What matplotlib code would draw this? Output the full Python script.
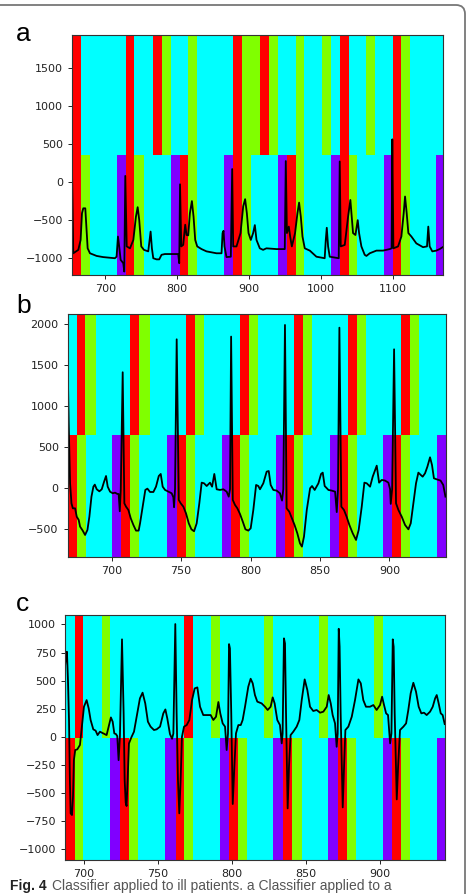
import matplotlib
matplotlib.use("Agg")
import matplotlib.pyplot as plt
from matplotlib.patches import FancyBboxPatch

# class colours: 0 red, 1 green, 2 cyan, 3 purple
CLASS_COLORS = ["#ff0000", "#80ff00", "#00ffff", "#8000ff"]

# ---- panel a ----
a_x = [653.8, 655.5, 662.5, 665.7, 667.6, 669.4, 672.2, 674.0, 675.5, 678.7, 688.0, 697.0,
       713.4, 715.7, 717.6, 719.4, 721.3, 725.0, 726.4, 727.8, 729.8, 734.3, 739.0, 742.6,
       745.0, 747.2, 750.0, 753.7, 759.7, 761.6, 763.0, 764.8, 766.7, 771.3, 775.0, 778.2,
       782.9, 801.4, 802.8, 803.9, 805.6, 808.3, 811.1, 813.0, 815.3, 817.6, 820.4, 822.7,
       825.0, 827.8, 833.8, 840.7, 854.6, 861.6, 863.0, 864.4, 865.7, 868.5, 874.5, 876.4,
       877.8, 882.4, 888.0, 891.7, 894.4, 896.8, 899.1, 902.3, 905.5, 907.9, 910.2, 914.8,
       919.4, 924.0, 938.0, 949.5, 950.9, 952.5, 955.1, 957.0, 959.3, 963.8, 967.1, 969.4,
       971.8, 974.1, 977.3, 984.3, 993.5, 1005.0, 1006.5, 1007.9, 1009.7, 1012.0, 1024.5,
       1025.9, 1027.3, 1032.9, 1037.5, 1040.7, 1044.4, 1047.7, 1050.9, 1052.8, 1056.0,
       1060.6, 1063.0, 1067.6, 1076.9, 1086.1, 1095.4, 1098.0, 1099.0, 1100.5, 1107.0,
       1111.6, 1114.8, 1116.7, 1119.0, 1121.3, 1125.5, 1132.4, 1141.7, 1147.2, 1149.0,
       1150.9, 1154.6, 1160.2, 1164.8, 1169.0]
a_y = [115, -935, -890, -760, -410, -345, -345, -630, -870, -935, -970, -985,
       -1000, -980, -715, -850, -1020, -1065, -1175, 80, -845, -870, -760, -455,
       -330, -500, -845, -890, -910, -760, -650, -870, -1000, -1015, -1015, -955,
       -945, -945, -1065, -30, -845, -825, -560, -695, -700, -410, -250, -455,
       -760, -845, -880, -910, -935, -935, -670, -640, -845, -985, -980, 170,
       -845, -845, -670, -320, -225, -410, -670, -760, -670, -565, -760, -870,
       -890, -870, -880, -880, 275, -670, -585, -715, -845, -670, -410, -270,
       -455, -715, -870, -900, -980, -1000, -760, -600, -845, -980, -1000,
       270, -845, -825, -455, -235, -670, -695, -500, -670, -845,
       -955, -970, -935, -900, -900, -880, -870, 560, -870, -845,
       -715, -410, -190, -410, -670, -715, -805, -855, -845, -585,
       -845, -910, -900, -880, -855]
a_top_edges = [653.7, 666.2, 728.7, 740.3, 765.7, 778.7, 790.7, 815.3, 827.8, 877.8, 890.3,
               914.8, 927.3, 939.8, 964.8, 976.4, 1000.9, 1013.9, 1026.4, 1038.4, 1062.5,
               1075.5, 1100.0, 1110.6, 1123.1, 1169.4]
a_top_labels = [0, 2, 0, 2, 0, 1, 2, 1, 2, 0, 1, 0, 1, 2, 1, 2, 1, 2, 0, 2, 1, 2, 0, 1, 2]
a_bot_edges = [653.7, 666.2, 678.7, 715.7, 728.7, 740.3, 753.7, 791.2, 803.7, 815.3, 827.8,
               864.8, 877.8, 890.3, 903.2, 939.8, 952.8, 964.8, 976.4, 1013.9, 1026.4,
               1038.4, 1050.5, 1087.5, 1100.0, 1110.6, 1123.1, 1159.3, 1169.4]
a_bot_labels = [0, 1, 2, 3] * 7

# ---- panel b ----
b_x = [668.3, 669.0, 670.0, 671.0, 672.0, 673.6, 674.8, 676.2, 677.2, 679.1, 680.8, 682.5,
       683.9, 685.4, 686.8, 687.8, 689.2, 691.1, 692.8, 694.5, 695.9, 697.1, 698.8, 700.7,
       702.4, 704.1, 705.0, 705.8, 706.5, 707.9, 709.1, 710.3, 712.0, 713.7, 715.6, 717.5,
       719.4, 720.4, 722.3, 724.2, 725.7, 727.6, 730.0, 731.9, 733.9, 735.3, 736.7, 738.4,
       740.8, 743.2, 744.4, 744.9, 745.6, 746.8, 748.3, 749.7, 751.6, 753.5, 755.5, 757.4,
       759.3, 761.2, 763.1, 764.8, 766.5, 768.4, 770.8, 772.3, 773.9, 775.6, 778.0, 780.4,
       782.8, 784.3, 785.2, 786.0, 787.2, 788.8, 790.5, 792.4, 794.4, 796.3, 798.4, 800.1,
       802.0, 804.0, 805.6, 806.8, 809.2, 811.6, 813.1, 814.5, 816.4, 818.8, 821.2, 822.7,
       823.6, 824.8, 826.0, 827.9, 829.8, 831.7, 833.7, 835.6, 837.0, 838.5, 840.5, 842.9,
       844.3, 846.2, 848.9, 850.8, 852.0, 853.4, 856.1, 858.5, 860.9, 862.1, 863.0, 864.0,
       865.4, 867.3, 869.2, 871.2, 873.6, 876.0, 877.9, 880.1, 882.0, 883.7, 886.1, 888.0,
       890.9, 892.6, 894.5, 896.9, 899.3, 900.5, 901.0, 902.0, 903.4, 904.8, 906.5, 908.9,
       911.3, 913.7, 915.4, 917.3, 919.2, 920.9, 922.6, 924.0, 925.7, 927.4, 929.3, 930.7,
       932.1, 934.0, 936.9, 938.8, 940.4]
b_y = [1492, 793, 61, -183, -244, -244, -346, -386, -467, -516, -569, -508,
       -346, -102, 20, 45, -12, -37, -12, 81, 150, 20, -41, -61,
       -53, -69, -69, -280, -20, 1415, -183, -224, -264, -366, -447, -516,
       -516, -427, -224, -20, -4, -45, -45, 20, 150, 175, 20, -20,
       -41, -61, -110, -230, -10, 1817, -142, -183, -224, -305, -427, -500,
       -524, -427, -183, 69, 61, 28, 69, 20, 175, -12, -20, -12,
       -41, -102, -10, 1850, -142, -203, -244, -313, -406, -500, -516, -488,
       -264, 41, 28, -12, 61, 203, 211, 41, -20, -28, -61, -150,
       -10, 1992, -244, -285, -366, -447, -549, -671, -711, -589, -264, 0,
       28, -20, 61, 175, 191, 28, -20, -28, -41, -290, -10, 1959,
       -224, -264, -346, -447, -549, -630, -508, -224, 69, 61, 20, 142,
       276, 69, 102, 94, 69, -10, -190, -10, 1695, -183, -264, -346,
       -447, -500, -427, -183, 61, 191, 163, 142, 183, 264, 378, 285,
       122, 110, 94, 41, -102]
b_top_edges = [668.3, 675.0, 681.0, 688.5, 713.2, 719.7, 727.4, 753.3, 760.0, 766.5, 792.4,
               798.9, 805.6, 831.3, 838.1, 844.5, 870.2, 876.5, 883.4, 908.4, 915.1, 921.6,
               940.6]
b_top_labels = [2, 0, 1] * 7 + [2]
b_bot_edges = [668.3, 675.0, 681.5, 700.0, 706.5, 713.2, 719.9, 740.1, 746.8, 753.3, 760.0,
               779.2, 785.7, 792.4, 798.9, 818.4, 824.8, 831.3, 838.1, 857.3, 864.0, 870.2,
               876.5, 895.7, 902.2, 908.4, 915.1, 934.3, 940.6]
b_bot_labels = [0, 1, 2, 3] * 7

# ---- panel c ----
c_x = [687.2, 687.8, 688.5, 689.2, 689.9, 690.5, 691.0, 691.9, 692.6, 693.2, 694.1, 695.5,
       697.3, 698.6, 700.0, 701.8, 703.2, 704.5, 706.3, 707.9, 709.2, 710.8, 713.1, 715.3,
       716.7, 718.2, 719.4, 720.5, 721.6, 722.5, 723.4, 724.3, 725.7, 726.8, 727.5, 728.2,
       728.8, 729.5, 730.4, 732.2, 733.8, 735.6, 737.8, 739.6, 741.4, 743.2, 745.0, 747.3,
       749.1, 751.4, 753.6, 755.0, 756.3, 758.1, 759.5, 760.4, 761.7, 762.6, 763.5, 764.4,
       765.3, 766.2, 767.6, 769.4, 771.2, 773.0, 774.8, 776.6, 778.4, 780.6, 783.3, 785.6,
       787.4, 789.2, 790.8, 792.1, 793.7, 795.3, 796.4, 797.3, 798.0, 798.6, 799.5, 800.5,
       801.6, 802.7, 804.3, 805.9, 807.2, 808.8, 811.0, 812.6, 814.0, 815.5, 817.1, 820.0,
       822.3, 824.1, 826.1, 827.5, 828.8, 830.6, 832.4, 833.6, 834.2, 835.1, 835.8, 836.5,
       837.6, 838.5, 839.6, 841.4, 843.7, 845.5, 847.1, 849.1, 850.9, 852.7, 854.9, 857.2,
       859.5, 861.7, 864.0, 865.3, 866.7, 868.0, 869.6, 870.7, 871.4, 872.1, 872.7, 873.4,
       874.8, 875.7, 876.6, 878.6, 880.9, 883.1, 885.4, 887.0, 888.7, 890.5, 893.2, 895.5,
       897.7, 900.0, 901.4, 902.7, 904.1, 905.4, 906.8, 907.7, 908.6, 909.2, 909.9, 911.3,
       912.2, 913.5, 915.8, 917.6, 919.1, 920.7, 922.5, 924.3, 926.1, 927.9, 929.7, 931.5,
       933.8, 935.6, 937.2, 938.3, 939.6, 941.0, 942.3, 943.7]
c_y = [624, 713, 757, 505, 150, -384, -680, -695, -532, -207, -117, -111,
       -72, 91, 268, 327, 253, 150, 67, 55, 16, 46, 31, 16,
       91, 173, 135, 31, 25, 7, -207, 4, 867, 209, -384, -585,
       -615, -384, -58, 1, 46, 179, 342, 393, 298, 135, 91, 61,
       67, 91, 209, 244, 164, 25, -17, 30, 1003, 209, -384, -680,
       -384, 1, 91, 105, 150, 327, 431, 440, 268, 194, 194, 194,
       150, 179, 310, 209, 120, 91, -117, 30, 825, 787, 209, -597,
       -265, 31, 105, 105, 150, 268, 446, 517, 476, 372, 313, 298,
       268, 239, 268, 351, 298, 150, 105, -58, 30, 876, 831, 209,
       -636, -265, 16, 46, 91, 150, 327, 511, 416, 268, 230, 239,
       215, 224, 268, 372, 298, 194, 120, -88, 30, 961, 801, 209,
       -627, -265, 61, 91, 179, 327, 511, 476, 327, 268, 268, 283,
       239, 283, 357, 283, 209, 194, -58, 30, 867, 801, 209, -556,
       -265, 61, 91, 120, 239, 387, 481, 402, 268, 209, 215, 194,
       224, 268, 342, 372, 298, 209, 194, 114]
c_top_edges = [687.2, 693.7, 699.5, 711.9, 717.8, 767.8, 773.9, 785.8, 791.9, 821.8, 827.9,
               859.0, 865.1, 895.9, 902.3, 943.9]
c_top_labels = [2, 0, 2, 1, 2, 0, 2, 1, 2, 1, 2, 1, 2, 1, 2]
c_bot_edges = [687.2, 693.7, 699.5, 717.8, 724.3, 730.4, 736.7, 754.7, 761.9, 767.8, 773.9,
               791.9, 798.2, 803.8, 809.9, 827.9, 834.7, 840.8, 847.1, 865.1, 871.8, 877.9,
               883.8, 902.3, 907.9, 914.0, 920.3, 938.3, 943.9]
c_bot_labels = [0, 1, 2, 3] * 7


def draw_bands(ax, edges, labels, lo, hi):
    for x0, x1, k in zip(edges[:-1], edges[1:], labels):
        ax.axvspan(x0, x1, ymin=lo, ymax=hi, color=CLASS_COLORS[k], lw=0)


W, H = 468, 894
fig = plt.figure(figsize=(W / 100, H / 100), dpi=100)

# (label, label baseline px from top, axes rect, data...)
panels = [
    ("a", 41, [0.1538, 0.6924, 0.7927, 0.2685], a_x, a_y, a_top_edges, a_top_labels,
     a_bot_edges, a_bot_labels, (-1220, 1930), 100, 500),
    ("b", 313, [0.1447, 0.3773, 0.8077, 0.2715], b_x, b_y, b_top_edges, b_top_labels,
     b_bot_edges, b_bot_labels, (-834, 2126), 50, 500),
    ("c", 611, [0.1389, 0.0380, 0.8120, 0.2740], c_x, c_y, c_top_edges, c_top_labels,
     c_bot_edges, c_bot_labels, (-1095, 1083), 50, 250),
]

for (lab, lab_y, rect, xs, ys, te, tl, be, bl, ylim, xstep, ystep) in panels:
    ax = fig.add_axes(rect)
    draw_bands(ax, te, tl, 0.5, 1.0)
    draw_bands(ax, be, bl, 0.0, 0.5)
    ax.plot(xs, ys, color="black", lw=1.3)
    ax.set_xlim(te[0], te[-1])
    ax.set_ylim(*ylim)
    ax.xaxis.set_major_locator(matplotlib.ticker.MultipleLocator(xstep))
    ax.yaxis.set_major_locator(matplotlib.ticker.MultipleLocator(ystep))
    ax.tick_params(labelsize=8, length=3, width=0.7, colors="#222222")
    for s in ax.spines.values():
        s.set_color("#333333")
        s.set_linewidth(0.8)
    fig.text(16 / W, 1 - lab_y / H, lab, fontsize=19, family="Liberation Sans",
             va="baseline", ha="left")

# rounded frame around the figure
frame = FancyBboxPatch((-20, -20), 485, 909, boxstyle="round,pad=0,rounding_size=9",
                       transform=None, fill=False, ec="#777777", lw=1.3)
fig.patches.append(frame)

# caption (sits at the very bottom edge)
fig.text(10 / W, 1 - 890 / H, "Fig. 4", fontsize=10, fontweight="bold",
         family="Liberation Sans", va="baseline", color="#222222")
fig.text(52 / W, 1 - 890 / H, "Classifier applied to ill patients. a Classifier applied to a",
         fontsize=10, family="Liberation Sans", va="baseline", color="#555555")

fig.savefig("out.png", dpi=100)
